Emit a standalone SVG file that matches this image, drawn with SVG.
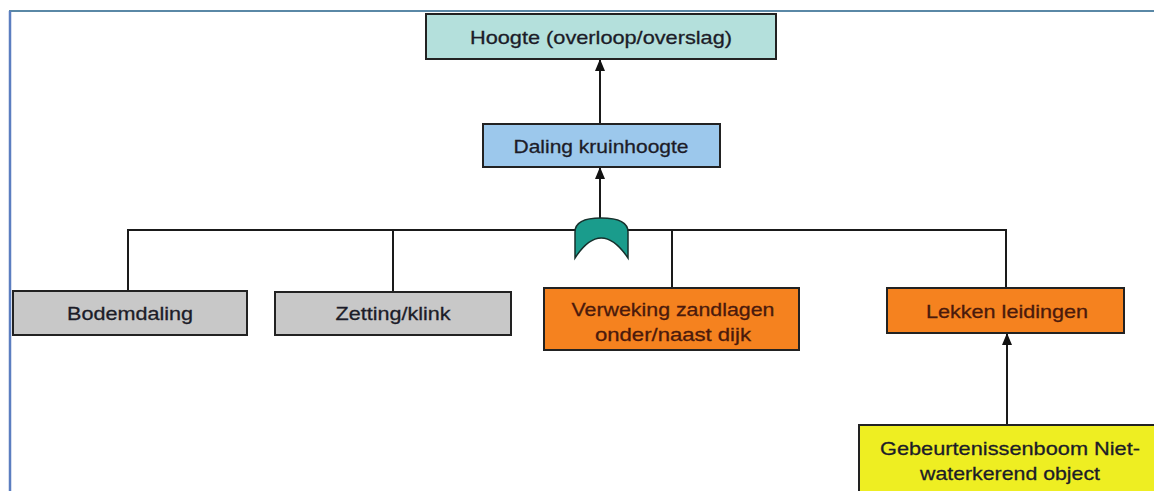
<svg xmlns="http://www.w3.org/2000/svg" width="1154" height="491" viewBox="0 0 1154 491">
<defs>
<marker id="arr" viewBox="0 0 12 10" refX="11" refY="5" markerWidth="12" markerHeight="10" markerUnits="userSpaceOnUse" orient="auto">
<path d="M0,0 L12,5 L0,10 Z" fill="#111"/>
</marker>
<style>
.box{stroke:#222;stroke-width:2}
.t{font-family:"Liberation Sans",Arial,sans-serif;font-size:19px;text-anchor:middle;dominant-baseline:central;fill:#1c1c28;stroke:#1c1c28;stroke-width:0.3}
.tb{fill:#4a1a0c;stroke:#4a1a0c}
.ln{fill:none;stroke:#1a1a1a;stroke-width:2}
</style>
</defs>
<rect width="1154" height="491" fill="#ffffff"/>
<g id="frame">
<line x1="9" y1="11" x2="1154" y2="11" stroke="#5a88a6" stroke-width="2"/>
<line x1="10" y1="11" x2="10" y2="491" stroke="#5b7ec0" stroke-width="2.5"/>
</g>
<g id="connectors">
<line class="ln" x1="600" y1="124" x2="600" y2="60" marker-end="url(#arr)"/>
<line class="ln" x1="600" y1="219" x2="600" y2="168" marker-end="url(#arr)"/>
<polyline class="ln" points="128,291 128,230 1006,230 1006,288"/>
<line class="ln" x1="393" y1="230" x2="393" y2="292"/>
<line class="ln" x1="672" y1="230" x2="672" y2="288"/>
<line class="ln" x1="1007" y1="425" x2="1007" y2="334" marker-end="url(#arr)"/>
</g>
<g id="gate">
<path d="M575,258 L575,232 Q575,218 601,218 Q628,218 628,232 L628,258 Q601,218 575,258 Z" fill="#1a9c8c" stroke="#16302c" stroke-width="1.5"/>
</g>
<g id="n-hoogte">
<rect class="box" x="426" y="14" width="350" height="45" fill="#b4e0dc"/>
<text class="t" x="601" y="37" textLength="262" lengthAdjust="spacingAndGlyphs">Hoogte (overloop/overslag)</text>
</g>
<g id="n-daling">
<rect class="box" x="483" y="124" width="237" height="43" fill="#9cc8ec"/>
<text class="t" x="601" y="146" textLength="175" lengthAdjust="spacingAndGlyphs">Daling kruinhoogte</text>
</g>
<g id="n-bodemdaling">
<rect class="box" x="13" y="291" width="234" height="44" fill="#c8c8c8"/>
<text class="t" x="130" y="313" textLength="126" lengthAdjust="spacingAndGlyphs">Bodemdaling</text>
</g>
<g id="n-zetting">
<rect class="box" x="275" y="292" width="236" height="43" fill="#c8c8c8"/>
<text class="t" x="393" y="313" textLength="115" lengthAdjust="spacingAndGlyphs">Zetting/klink</text>
</g>
<g id="n-verweking">
<rect class="box" x="544" y="288" width="255" height="62" fill="#f5821f"/>
<text class="t tb" x="673" y="309" textLength="203" lengthAdjust="spacingAndGlyphs">Verweking zandlagen</text>
<text class="t tb" x="673" y="334" textLength="156" lengthAdjust="spacingAndGlyphs">onder/naast dijk</text>
</g>
<g id="n-lekken">
<rect class="box" x="887" y="288" width="237" height="45" fill="#f5821f"/>
<text class="t tb" x="1007" y="311" textLength="162" lengthAdjust="spacingAndGlyphs">Lekken leidingen</text>
</g>
<g id="n-gebeurtenis">
<rect class="box" x="859" y="425" width="300" height="80" fill="#eeee22"/>
<text class="t" x="1010" y="448" textLength="260" lengthAdjust="spacingAndGlyphs">Gebeurtenissenboom Niet-</text>
<text class="t" x="1010" y="473" textLength="180" lengthAdjust="spacingAndGlyphs">waterkerend object</text>
</g>
</svg>
